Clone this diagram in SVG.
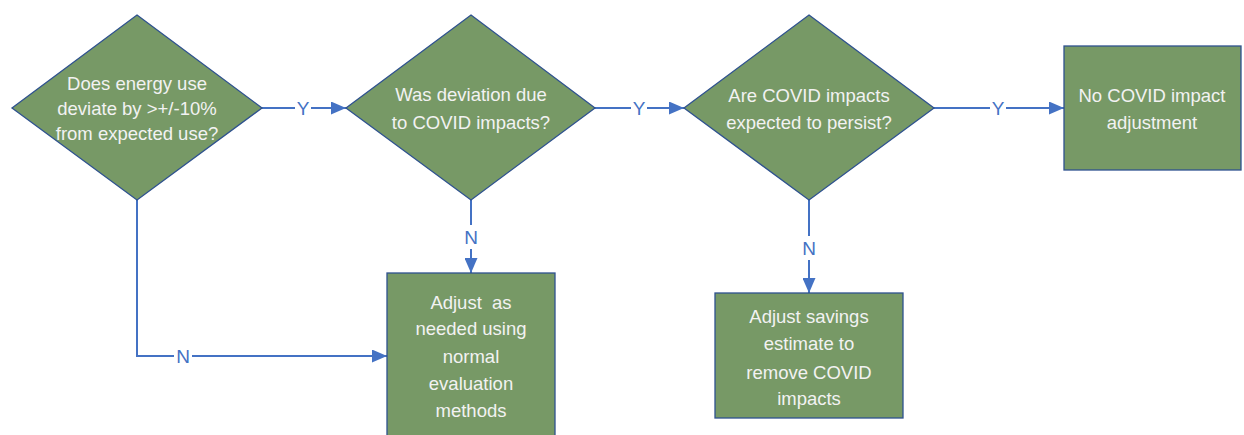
<svg xmlns="http://www.w3.org/2000/svg" width="1244" height="435" viewBox="0 0 1244 435">
<defs>
<marker id="arr" markerWidth="15" markerHeight="13" refX="15" refY="6.5" orient="auto" markerUnits="userSpaceOnUse" viewBox="0 0 15 13">
<path d="M0,0 L15,6.5 L0,13 Z" fill="#4472C4"/>
</marker>
<style>
.shape{fill:#779966;stroke:#2F528F;stroke-width:1.3}
.t{font-family:"Liberation Sans",Arial,sans-serif;font-size:18.5px;fill:#F2F2F2;text-anchor:middle}
.c{fill:none;stroke:#4472C4;stroke-width:2;marker-end:url(#arr)}
.lbl{font-family:"Liberation Sans",Arial,sans-serif;font-size:19px;fill:#4472C4;text-anchor:middle}
.bg{fill:#FFFFFF}
</style>
</defs>
<rect width="1244" height="435" fill="#FFFFFF"/>
<g id="connectors">
<path class="c" d="M262,108 L346,108"/>
<path class="c" d="M595,108 L684,108"/>
<path class="c" d="M934,108 L1064,108"/>
<path class="c" d="M471,200 L471,273"/>
<path class="c" d="M809,200 L809,293"/>
<path class="c" d="M137,200 L137,356 L387,356"/>
<rect class="bg" x="295" y="96" width="16" height="24"/>
<text class="lbl" x="303" y="115">Y</text>
<rect class="bg" x="631" y="96" width="16" height="24"/>
<text class="lbl" x="639" y="115">Y</text>
<rect class="bg" x="990" y="96" width="16" height="24"/>
<text class="lbl" x="998" y="115">Y</text>
<rect class="bg" x="462" y="225" width="18" height="24"/>
<text class="lbl" x="471" y="244">N</text>
<rect class="bg" x="800" y="236" width="18" height="24"/>
<text class="lbl" x="809" y="255">N</text>
<rect class="bg" x="174" y="344" width="18" height="24"/>
<text class="lbl" x="183" y="363">N</text>
</g>
<g id="d1">
<polygon class="shape" points="137,15 262,108 137,200 12,108"/>
<text class="t" x="137" y="90">Does energy use</text>
<text class="t" x="137" y="115">deviate by &gt;+/-10%</text>
<text class="t" x="137" y="140">from expected use?</text>
</g>
<g id="d2">
<polygon class="shape" points="471,15 595,108 471,200 346,108"/>
<text class="t" x="471" y="101">Was deviation due</text>
<text class="t" x="471" y="129">to COVID impacts?</text>
</g>
<g id="d3">
<polygon class="shape" points="809,15 934,108 809,200 684,108"/>
<text class="t" x="809" y="102">Are COVID impacts</text>
<text class="t" x="809" y="129">expected to persist?</text>
</g>
<g id="b1">
<rect class="shape" x="1064" y="46" width="177" height="124"/>
<text class="t" x="1152" y="102">No COVID impact</text>
<text class="t" x="1152" y="129">adjustment</text>
</g>
<g id="b2">
<rect class="shape" x="387" y="273" width="168" height="170"/>
<text class="t" x="471" y="309" xml:space="preserve">Adjust  as</text>
<text class="t" x="471" y="335">needed using</text>
<text class="t" x="471" y="363">normal</text>
<text class="t" x="471" y="390">evaluation</text>
<text class="t" x="471" y="417">methods</text>
</g>
<g id="b3">
<rect class="shape" x="715" y="293" width="188" height="125"/>
<text class="t" x="809" y="323">Adjust savings</text>
<text class="t" x="809" y="350">estimate to</text>
<text class="t" x="809" y="379">remove COVID</text>
<text class="t" x="809" y="405">impacts</text>
</g>
</svg>
